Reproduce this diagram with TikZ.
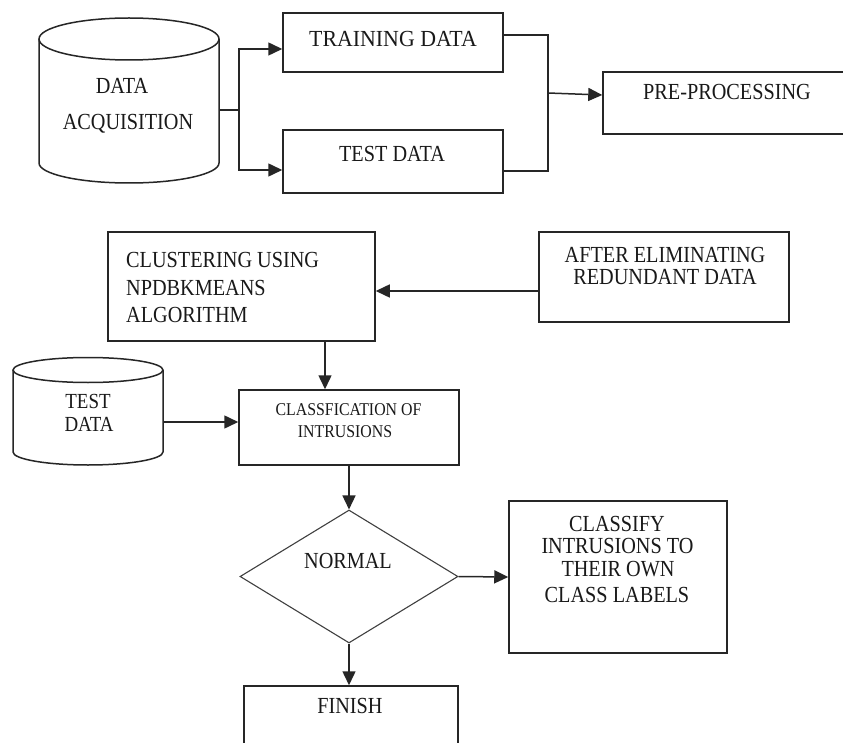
\documentclass[tikz,border=0pt]{standalone}
\usepackage{fontspec}
\setmainfont{Liberation Serif}[FakeStretch=0.88]
\usetikzlibrary{arrows.meta,shapes.geometric}

\tikzset{
  line/.style={line width=1.5pt, draw=black!85},
  arr/.style={line, -{Triangle[length=14pt,width=13pt]}},
  blk/.style={rectangle, line, minimum width=#1, inner sep=0pt},
  hidden/.style={rectangle, inner sep=0pt},
  txt/.style={inner sep=0pt, anchor=base, font=\fontsize{23}{23}\selectfont, text=black!90},
  txts/.style={txt, font=\fontsize{18}{18}\selectfont},
  txtc/.style={txt, font=\fontsize{21.5}{21.5}\selectfont},
}

\begin{document}
\begin{tikzpicture}[x=1pt, y=-1pt]
\useasboundingbox (0,0) rectangle (843,743);
\clip (0,0) rectangle (843,743);
\fill[white] (0,0) rectangle (843,743);

% ---------- data acquisition store ----------
\node[hidden, minimum width=180pt, minimum height=165pt] (acq) at (129,100.5) {};
\draw[line, fill=white] (39,39) -- (39,163) arc[start angle=180, end angle=0, x radius=90, y radius=20] -- (219,39);
\draw[line] (129,39) ellipse[x radius=90, y radius=21];
\node[txt] (acqa) at (122,94) {DATA};
\node[txt] (acqb) at (128,130) {ACQUISITION};

% ---------- training / test split ----------
\node[blk=220pt, minimum height=59pt] (train) at (393,42.5) {};
\node[txt, font=\fontsize{23}{23}\selectfont\addfontfeature{FakeStretch=0.95}] (traint) at (393,47) {TRAINING DATA};
\node[blk=220pt, minimum height=63pt] (test) at (393,161.5) {};
\node[txt] (testt) at (392,162) {TEST DATA};

\node[blk=257pt, minimum height=62pt] (pre) at (731.5,103) {};
\node[txt] (pret) at (727,100) {PRE-PROCESSING};

\coordinate (fork) at (239,110);
\draw[line] ([yshift=-9.5pt]acq.east) -- (fork);
\draw[arr] (fork) |- ([yshift=-6.5pt]train.west);
\draw[arr] (fork) |- ([yshift=-8.5pt]test.west);

\coordinate (join) at (548,93);
\draw[line] ([yshift=7.5pt]train.east) -| (join) |- ([yshift=-9.5pt]test.east);
\draw[arr] (join) -- ([yshift=8pt]pre.west);

% ---------- clustering ----------
\node[blk=267pt, minimum height=109pt] (clus) at (241.5,286.5) {};
\node[txt, anchor=base west] (clusa) at (126,268) {CLUSTERING USING};
\node[txt, anchor=base west] (clusb) at (126,295) {NPDBKMEANS};
\node[txt, anchor=base west] (clusc) at (126,322) {ALGORITHM};

\node[blk=250pt, minimum height=90pt] (elim) at (664,277) {};
\node[txt] (elima) at (665,262) {AFTER ELIMINATING};
\node[txt] (elimb) at (665,285) {REDUNDANT DATA};

\draw[arr] ([yshift=-14pt]elim.west) -- ([yshift=-14pt]elim.west -| clus.east);

% ---------- classification ----------
\node[blk=220pt, minimum height=75pt] (cls) at (349,427.5) {};
\node[txts] (clsa) at (348.5,415) {CLASSFICATION OF};
\node[txts] (clsb) at (345,437) {INTRUSIONS};

\draw[arr] ([xshift=83.5pt]clus.south) -- ([xshift=83.5pt]clus.south |- cls.north);

\node[hidden, minimum width=150pt, minimum height=107pt] (tcyl) at (88,411.5) {};
\draw[line, fill=white] (13,370) -- (13,452) arc[start angle=180, end angle=0, x radius=75, y radius=13] -- (163,370);
\draw[line] (88,370) ellipse[x radius=75, y radius=12.5];
\node[txtc] (tcyla) at (88,408.5) {TEST};
\node[txtc] (tcylb) at (89,431) {DATA};

\draw[arr] ([yshift=-10.5pt]tcyl.east) -- ([yshift=-10.5pt]tcyl.east -| cls.west);

% ---------- decision ----------
\node[diamond, draw=black!75, line width=1.1pt, inner sep=0pt,
      minimum width=218pt, minimum height=133pt] (norm) at (349,576.5) {};
\node[txt] (normt) at (348,568) {NORMAL};
\draw[arr] (cls.south) -- (norm.north);

\node[blk=218pt, minimum height=152pt] (lab) at (618,577) {};
\node[txt] (laba) at (617,531) {CLASSIFY};
\node[txt] (labb) at (617.5,553) {INTRUSIONS TO};
\node[txt] (labc) at (618,576) {THEIR OWN};
\node[txt] (labd) at (617,602) {CLASS LABELS};
\draw[arr] (norm.east) -- (lab.west);

\node[blk=214pt, minimum height=74pt] (fin) at (351,723) {};
\node[txt] (fint) at (350,713) {FINISH};
\draw[arr] (norm.south) -- (norm.south |- fin.north);

\end{tikzpicture}
\end{document}
